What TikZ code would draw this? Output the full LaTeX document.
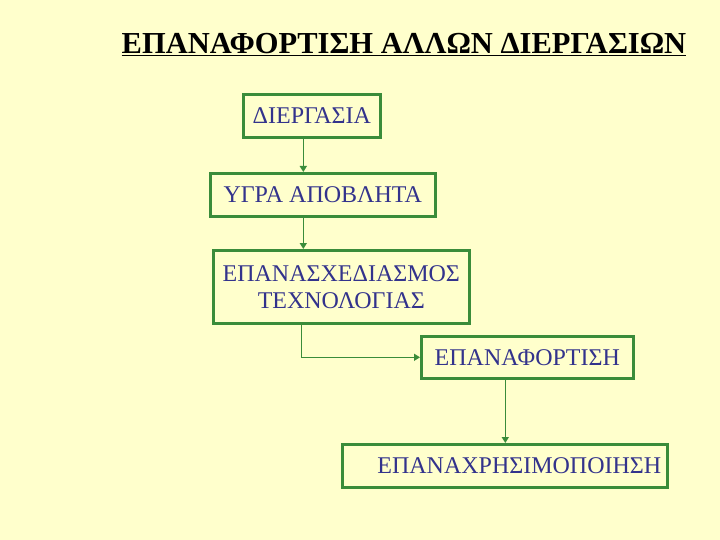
\documentclass[tikz,border=0pt]{standalone}
\usepackage{fontspec}
\setmainfont{Liberation Serif}
\usetikzlibrary{arrows.meta,positioning}
\definecolor{bgyellow}{RGB}{255,255,204}
\definecolor{boxgreen}{RGB}{58,140,58}
\definecolor{textblue}{RGB}{51,51,140}
\begin{document}
\begin{tikzpicture}[x=1pt,y=-1pt,
        box/.style={draw=boxgreen, line width=2.6pt, text=textblue,
                    font=\fontsize{24}{27}\selectfont, align=center,
                    inner sep=0pt, anchor=north west},
        arr/.style={-{Triangle[length=6pt,width=7pt]}, boxgreen, line width=1.5pt}
      ]
        \fill[bgyellow] (0,0) rectangle (720,540);
        \useasboundingbox (0,0) rectangle (720,540);
        \node (title) at (404,45) {\fontsize{30.5}{34}\selectfont\bfseries\underline{ΕΠΑΝΑΦΟΡΤΙΣΗ ΑΛΛΩΝ ΔΙΕΡΓΑΣΙΩΝ}};
        \node[box, minimum width=137pt, minimum height=43pt] (process) at (242,93) {ΔΙΕΡΓΑΣΙΑ};
        \node[box, minimum width=225pt, minimum height=43pt] (waste) at (209,172) {ΥΓΡΑ ΑΠΟΒΛΗΤΑ};
        \node[box, minimum width=256pt, minimum height=73pt] (redesign) at (212,249) {ΕΠΑΝΑΣΧΕΔΙΑΣΜΟΣ\\ΤΕΧΝΟΛΟΓΙΑΣ};
        \node[box, minimum width=212pt, minimum height=42pt] (recharge) at (420,335) {ΕΠΑΝΑΦΟΡΤΙΣΗ};
        \node[box, minimum width=325pt, minimum height=43pt,
              text width=313pt, align=right] (reuse) at (341,443) {ΕΠΑΝΑΧΡΗΣΙΜΟΠΟΙΗΣΗ};
        \draw[arr] ([xshift=-8.5pt]process.south) -- ([xshift=-8.5pt]process.south |- waste.north);
        \draw[arr] ([xshift=-19.5pt]waste.south) -- ([xshift=-19.5pt]waste.south |- redesign.north);
        \draw[arr] ([xshift=-40pt]redesign.south) |- (recharge.west);
        \draw[arr] ([xshift=-22pt]recharge.south) -- ([xshift=-22pt]recharge.south |- reuse.north);
      \end{tikzpicture}
\end{document}
